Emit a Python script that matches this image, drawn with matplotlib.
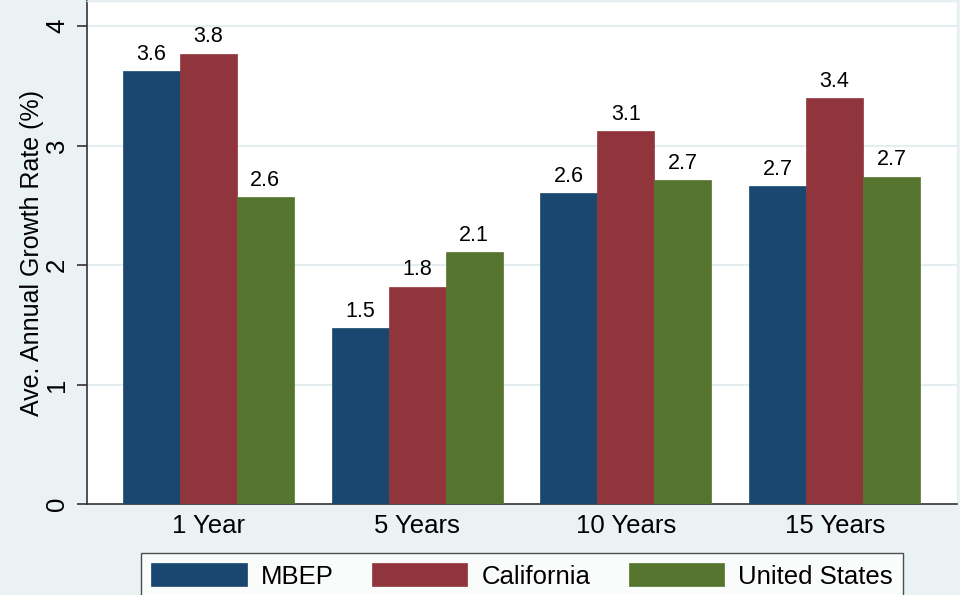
import matplotlib
matplotlib.use("Agg")
import matplotlib.pyplot as plt
import numpy as np

categories = ["1 Year", "5 Years", "10 Years", "15 Years"]
series_names = ["MBEP", "California", "United States"]
mbep = [3.62, 1.47, 2.60, 2.66]
california = [3.77, 1.82, 3.12, 3.40]
united_states = [2.57, 2.11, 2.71, 2.74]
yticks = [0, 1, 2, 3, 4]

colors = ["#1A476F", "#90353B", "#55752F"]
bg = "#EAF2F3"

plt.rcParams['font.family'] = ['Liberation Sans', 'DejaVu Sans']

fig = plt.figure(figsize=(9.6, 5.95), dpi=100, facecolor=bg)
ax = fig.add_axes([87/960, 1 - 504/595, (957-87)/960, (504-1)/595])
ax.set_facecolor("white")

x = np.arange(len(categories))
w = 0.273
all_series = [mbep, california, united_states]
for i, (vals, name, c) in enumerate(zip(all_series, series_names, colors)):
    pos = x + (i - 1) * w
    ax.bar(pos, vals, width=w, color=c, edgecolor=c, linewidth=0.5,
           label=name, zorder=3)
    for xp, v in zip(pos, vals):
        ax.annotate(f"{v:.1f}", (xp, v), xytext=(0, 4.5), textcoords="offset points",
                    ha="center", va="bottom", fontsize=15.5, color="black", zorder=4)

ax.set_xlim(-0.581, 3.586)
ax.set_ylim(0, 4.21)
ax.set_yticks(yticks)
ax.set_yticklabels([str(t) for t in yticks], rotation=90, va="center", fontsize=18.5)
ax.set_xticks(x)
ax.set_xticklabels(categories, fontsize=18.5)
ax.tick_params(axis="x", length=0, pad=7)
ax.tick_params(axis="y", length=7, width=1.2, color="#333333", pad=6)

for t in [1, 2, 3, 4]:
    ax.axhline(t, color="#E4EEF0", linewidth=1.5, zorder=1)

for s in ["left", "bottom"]:
    ax.spines[s].set_color("#333333")
    ax.spines[s].set_linewidth(1.2)
for s in ["top", "right"]:
    ax.spines[s].set_color("#E4EEF0")
    ax.spines[s].set_linewidth(1.0)

ax.set_ylabel("Ave. Annual Growth Rate (%)", fontsize=18, labelpad=1)

leg = fig.legend(loc="upper center", bbox_to_anchor=(522/960, 1 - 553/595), ncol=3,
                 fontsize=18.5, frameon=True, fancybox=False, borderaxespad=0,
                 handlelength=3.7, handleheight=1.0, handletextpad=0.55,
                 columnspacing=1.5, borderpad=0.4)
leg.get_frame().set_edgecolor("#222222")
leg.get_frame().set_linewidth(1.0)
leg.get_frame().set_facecolor("white")

fig.savefig("out.png", dpi=100, facecolor=bg)
